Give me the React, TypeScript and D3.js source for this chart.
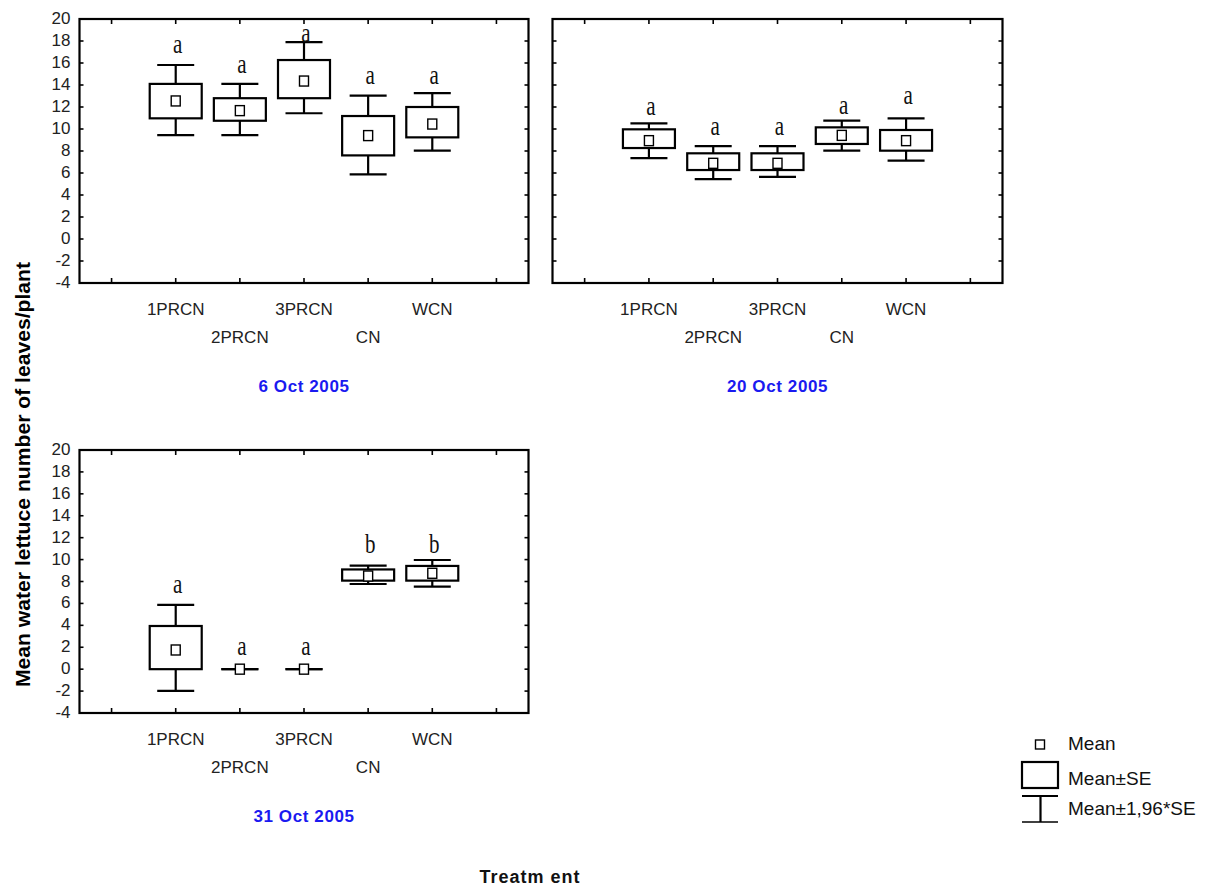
import React from 'react';
import * as d3 from 'd3';

const categories = ['1PRCN', '2PRCN', '3PRCN', 'CN', 'WCN'];
const yTickValues = [20, 18, 16, 14, 12, 10, 8, 6, 4, 2, 0, -2, -4];
const xTickSlots = [1, 2, 3, 4, 5, 6, 7];

// 6 Oct 2005
const oct6Mean = [12.55, 11.67, 14.36, 9.4, 10.45];
const oct6SeLow = [10.97, 10.75, 12.8, 7.6, 9.24];
const oct6SeHigh = [14.1, 12.8, 16.27, 11.18, 12.0];
const oct6CiLow = [9.45, 9.45, 11.43, 5.88, 8.03];
const oct6CiHigh = [15.82, 14.1, 17.9, 13.03, 13.27];
const oct6Letters = ['a', 'a', 'a', 'a', 'a'];
const oct6LetterAt = [16.88, 15.06, 17.94, 14.09, 14.09];

// 20 Oct 2005
const oct20Mean = [8.94, 6.88, 6.88, 9.42, 8.94];
const oct20SeLow = [8.27, 6.27, 6.27, 8.64, 8.03];
const oct20SeHigh = [9.97, 7.79, 7.79, 10.15, 9.91];
const oct20CiLow = [7.36, 5.45, 5.64, 8.03, 7.12];
const oct20CiHigh = [10.52, 8.45, 8.45, 10.76, 10.97];
const oct20Letters = ['a', 'a', 'a', 'a', 'a'];
const oct20LetterAt = [11.27, 9.45, 9.45, 11.36, 12.27];

// 31 Oct 2005
const oct31Mean = [1.75, 0, 0, 8.5, 8.75];
const oct31SeLow = [0, 0, 0, 8.08, 8.08];
const oct31SeHigh = [3.94, 0, 0, 9.1, 9.42];
const oct31CiLow = [-1.99, 0, 0, 7.77, 7.53];
const oct31CiHigh = [5.86, 0, 0, 9.44, 9.96];
const oct31Letters = ['a', 'a', 'a', 'b', 'b'];
const oct31LetterAt = [6.93, 1.29, 1.29, 10.57, 10.57];

const panelTitles = ['6 Oct 2005', '20 Oct 2005', '31 Oct 2005'];

const panels = [
  { title: panelTitles[0], mean: oct6Mean, seLo: oct6SeLow, seHi: oct6SeHigh, ciLo: oct6CiLow, ciHi: oct6CiHigh, letters: oct6Letters, letterAt: oct6LetterAt, left: 79.5, right: 528.5, top: 19, bottom: 283, yLabels: true },
  { title: panelTitles[1], mean: oct20Mean, seLo: oct20SeLow, seHi: oct20SeHigh, ciLo: oct20CiLow, ciHi: oct20CiHigh, letters: oct20Letters, letterAt: oct20LetterAt, left: 552.5, right: 1002.5, top: 19, bottom: 283, yLabels: false },
  { title: panelTitles[2], mean: oct31Mean, seLo: oct31SeLow, seHi: oct31SeHigh, ciLo: oct31CiLow, ciHi: oct31CiHigh, letters: oct31Letters, letterAt: oct31LetterAt, left: 79.5, right: 528.5, top: 450, bottom: 713, yLabels: true },
];

const SANS = '"Liberation Sans", Arial, Helvetica, sans-serif';
const SERIF = '"Liberation Serif", "Times New Roman", serif';
const BLUE = '#1a1af0';

function Panel({ p }: { p: any }) {
  const x = d3.scaleLinear().domain([0.5, 7.5]).range([p.left, p.right]);
  const y = d3.scaleLinear().domain([-4, 20]).range([p.bottom, p.top]);
  const boxHalf = 26;
  const capHalf = 18.5;
  const cx = (p.left + p.right) / 2;
  return (
    <g>
      {/* ticks */}
      {xTickSlots.map((s) => (
        <g key={'xt' + s}>
          <line x1={x(s)} x2={x(s)} y1={p.top} y2={p.top + 5} stroke="#000" strokeWidth={1.6} />
          <line x1={x(s)} x2={x(s)} y1={p.bottom} y2={p.bottom - 5} stroke="#000" strokeWidth={1.6} />
        </g>
      ))}
      {yTickValues.map((v) => (
        <g key={'yt' + v}>
          <line x1={p.left} x2={p.left + 4} y1={y(v)} y2={y(v)} stroke="#000" strokeWidth={1.6} />
          <line x1={p.right} x2={p.right - 4} y1={y(v)} y2={y(v)} stroke="#000" strokeWidth={1.6} />
          {p.yLabels && (
            <text x={p.left - 9} y={y(v) + 5} textAnchor="end" fontFamily={SANS} fontSize={17} fill="#222">
              {v}
            </text>
          )}
        </g>
      ))}
      {/* frame */}
      <rect x={p.left} y={p.top} width={p.right - p.left} height={p.bottom - p.top} fill="none" stroke="#000" strokeWidth={2.2} />
      {/* x labels */}
      {categories.map((c, i) => (
        <text key={'xl' + c} x={x(i + 2)} y={p.bottom + (i % 2 === 0 ? 32 : 60)} textAnchor="middle" fontFamily={SANS} fontSize={17} fill="#222">
          {c}
        </text>
      ))}
      {/* boxes */}
      {categories.map((c, i) => {
        const xc = x(i + 2);
        return (
          <g key={'b' + c}>
            <line x1={xc} x2={xc} y1={y(p.ciHi[i])} y2={y(p.seHi[i])} stroke="#000" strokeWidth={2.2} />
            <line x1={xc} x2={xc} y1={y(p.ciLo[i])} y2={y(p.seLo[i])} stroke="#000" strokeWidth={2.2} />
            <line x1={xc - capHalf} x2={xc + capHalf} y1={y(p.ciHi[i])} y2={y(p.ciHi[i])} stroke="#000" strokeWidth={2.2} />
            <line x1={xc - capHalf} x2={xc + capHalf} y1={y(p.ciLo[i])} y2={y(p.ciLo[i])} stroke="#000" strokeWidth={2.2} />
            <rect x={xc - boxHalf} y={y(p.seHi[i])} width={boxHalf * 2} height={Math.max(0, y(p.seLo[i]) - y(p.seHi[i]))} fill="none" stroke="#000" strokeWidth={2.2} />
            <rect x={xc - 4.5} y={y(p.mean[i]) - 5} width={9} height={10} fill="#fff" stroke="#000" strokeWidth={1.4} />
            <text transform={`translate(${xc + 2},${y(p.letterAt[i])}) scale(1,1.25)`} textAnchor="middle" fontFamily={SERIF} fontSize={21} fill="#111">
              {p.letters[i]}
            </text>
          </g>
        );
      })}
      {/* date title */}
      <text x={cx} y={p.bottom + 109} textAnchor="middle" fontFamily={SANS} fontWeight="bold" fontSize={17} letterSpacing={0.6} fill={BLUE}>
        {p.title}
      </text>
    </g>
  );
}

export default function App() {
  return (
    <svg width={1213} height={890} style={{ position: 'absolute', left: 0, top: 0, background: '#fff' }}>
      <rect x={0} y={0} width={1213} height={890} fill="#fff" />
      {panels.map((p, i) => (
        <Panel key={i} p={p} />
      ))}
      {/* y axis title */}
      <text transform="translate(30,474.5) rotate(-90)" textAnchor="middle" fontFamily={SANS} fontWeight="bold" fontSize={21} fill="#000" textLength={425} lengthAdjust="spacingAndGlyphs">
        Mean water lettuce number of leaves/plant
      </text>
      {/* x axis title */}
      <text x={530} y={883} textAnchor="middle" fontFamily={SANS} fontWeight="bold" fontSize={18} letterSpacing={1} fill="#111">
        Treatm ent
      </text>
      {/* legend */}
      <rect x={1035.5} y={740} width={9} height={9} fill="#fff" stroke="#000" strokeWidth={1.4} />
      <text x={1068} y={750} fontFamily={SANS} fontSize={19} fill="#111">Mean</text>
      <rect x={1022} y={762} width={36} height={26} fill="none" stroke="#000" strokeWidth={2.2} />
      <text x={1068} y={785} fontFamily={SANS} fontSize={19} fill="#111">Mean±SE</text>
      <line x1={1022} x2={1058} y1={796} y2={796} stroke="#000" strokeWidth={2.2} />
      <line x1={1040.5} x2={1040.5} y1={796} y2={822} stroke="#000" strokeWidth={2.2} />
      <line x1={1022} x2={1058} y1={822} y2={822} stroke="#000" strokeWidth={1.4} />
      <text x={1068} y={815} fontFamily={SANS} fontSize={19} fill="#111">Mean±1,96*SE</text>
    </svg>
  );
}
